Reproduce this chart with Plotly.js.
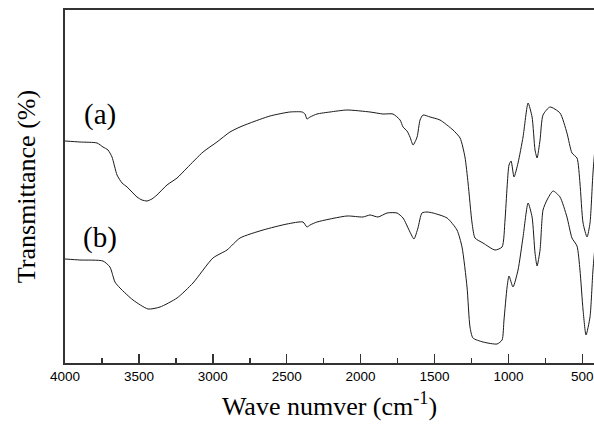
<!DOCTYPE html>
<html>
<head>
<meta charset="utf-8">
<script src="https://cdn.plot.ly/plotly-3.0.1.min.js"></script>
<style>html,body{margin:0;padding:0;background:#fff}#chart{width:594px;height:428px}</style>
</head>
<body>
<div id="chart"></div>
<script>
// Wavenumber (cm^-1) and transmittance (arbitrary units)
const waveA = [4000,3899,3783,3743,3709,3682,3648,3614,3580,3513,3479,3445,3412,3378,3310,3242,3175,3066,2972,2884,2816,2748,2613,2478,2396,2376,2363,2342,2295,2207,2092,1936,1848,1781,1733,1713,1686,1666,1645,1618,1598,1578,1530,1463,1375,1327,1294,1273,1246,1226,1172,1091,1043,1023,1009,996,982,962,935,901,867,840,820,806,786,766,719,651,604,570,536,516,495,468,448,428,400];
const transA = [222,221,220,216,213,206,188,180,176,166,163,162,164,168,178,185,195,211,221,231,236,240,247,251,251,249,244,246,249,251,253,251,249,249,243,236,232,226,218,226,243,248,246,243,233,225,206,180,140,125,120,113,116,143,176,198,202,186,200,226,260,246,213,205,223,248,256,250,230,210,205,180,140,126,140,190,240];
const waveB = [4000,3899,3743,3696,3662,3628,3540,3438,3357,3242,3134,2999,2904,2816,2660,2498,2390,2363,2342,2295,2092,1984,1936,1882,1821,1754,1713,1666,1639,1612,1585,1551,1510,1415,1348,1314,1280,1260,1240,1172,1077,1043,1030,1009,996,969,935,901,867,840,820,806,786,766,739,698,651,604,570,536,516,495,475,448,428,400];
const transB = [104,103,102,96,81,75,63,54,56,65,80,105,113,125,133,139,141,136,138,141,147,146,148,146,150,150,145,131,124,135,150,151,150,145,133,116,76,36,25,21,19,23,43,76,87,76,93,126,160,146,110,97,113,153,163,172,166,146,125,117,93,53,28,46,93,140];
const seriesLabels = ["(a)", "(b)"];
const labelWave = [3763, 3763];
const labelTrans = [249, 126];
const xTickVals = [4000,3500,3000,2500,2000,1500,1000,500];
const xTickText = ["4000","3500","3000","2500","2000","1500","1000","500"];

const serif = "Liberation Serif, Times New Roman, serif";
const sans = "Liberation Sans, Arial, sans-serif";

const traces = [
  {x: waveA, y: transA, type: "scatter", mode: "lines", name: "(a)",
   line: {color: "#1a1a1a", width: 1, shape: "spline", smoothing: 0.6}},
  {x: waveB, y: transB, type: "scatter", mode: "lines", name: "(b)",
   line: {color: "#1a1a1a", width: 1, shape: "spline", smoothing: 0.6}}
];

const layout = {
  width: 594, height: 428,
  margin: {l: 65, r: 0, t: 10, b: 65},
  paper_bgcolor: "#fff", plot_bgcolor: "#fff",
  showlegend: false,
  xaxis: {
    range: [4000, 421], autorange: false,
    tickvals: xTickVals, ticktext: xTickText,
    ticks: "inside", ticklen: 9, tickwidth: 1.5, tickcolor: "#333",
    minor: {dtick: 250, tick0: 0, ticks: "inside", ticklen: 5, tickwidth: 1.5, tickcolor: "#333"},
    showline: true, linecolor: "#333", linewidth: 2, mirror: true,
    showgrid: false, zeroline: false,
    tickfont: {family: sans, size: 13.5, color: "#000"},
    title: {text: "Wave numver (cm<sup>-1</sup>)", font: {family: serif, size: 26, color: "#000"}, standoff: 14}
  },
  yaxis: {
    range: [0, 353], autorange: false,
    showticklabels: false, ticks: "",
    showline: true, linecolor: "#333", linewidth: 2, mirror: false,
    showgrid: false, zeroline: false,
    title: {text: "Transmittance (%)", font: {family: serif, size: 26, color: "#000"}, standoff: 20}
  },
  annotations: seriesLabels.map((t, i) => ({
    x: labelWave[i], y: labelTrans[i], xref: "x", yref: "y",
    text: t, showarrow: false,
    font: {family: serif, size: 29, color: "#000"}
  }))
};

Plotly.newPlot("chart", traces, layout, {displayModeBar: false, staticPlot: true});
</script>
</body>
</html>
